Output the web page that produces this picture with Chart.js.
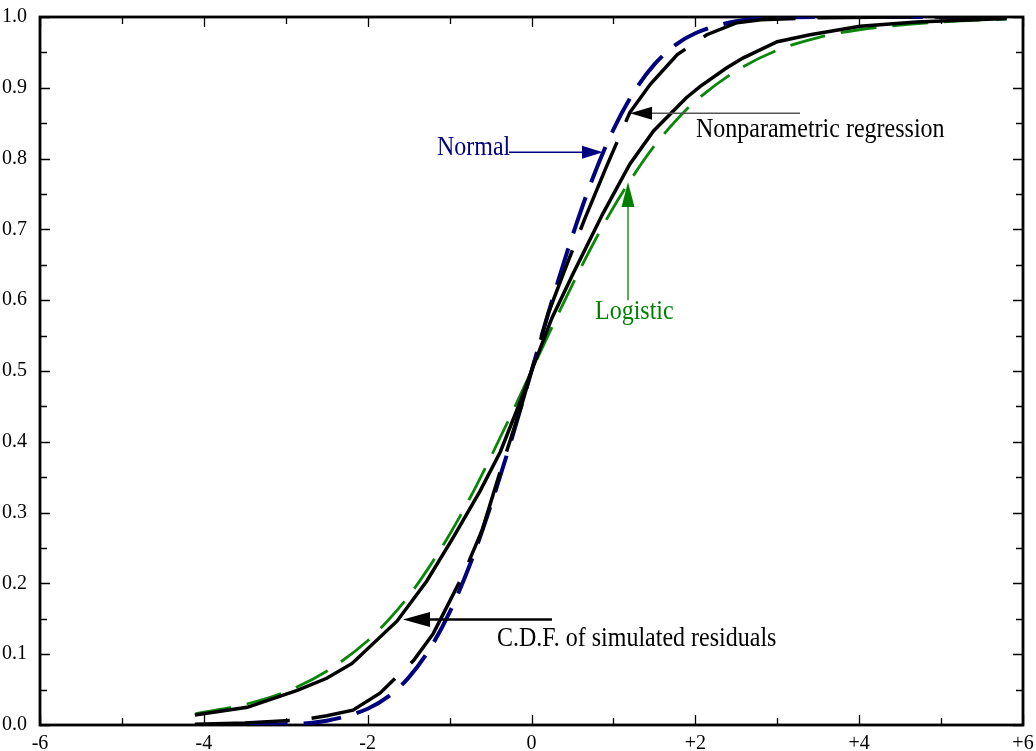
<!DOCTYPE html>
<html lang="en">
  <head>
    <meta charset="UTF-8" />
    <title>CDF comparison</title>
    <script src="https://cdn.jsdelivr.net/npm/chart.js"></script>
    <style>
      html, body { margin: 0; padding: 0; background: #fff; }
      .chart-box { position: relative; width: 1036px; height: 751px; }
    </style>
  </head>
  <body>
    <div class="chart-box"><canvas id="cdfChart"></canvas></div>
    <script>
      // tick labels
      const xTickLabels = ["-6", "-4", "-2", "0", "+2", "+4", "+6"];
      const yTickLabels = ["0.0", "0.1", "0.2", "0.3", "0.4", "0.5", "0.6", "0.7", "0.8", "0.9", "1.0"];

      // Normal c.d.f. (blue dashed)
      const normalX = [-4.1, -3.5, -3, -2.5, -2, -1.75, -1.5, -1.25, -1, -0.75, -0.5, -0.25, 0,
                       0.25, 0.5, 0.75, 1, 1.25, 1.5, 1.75, 2, 2.5, 3, 3.5, 4, 5, 5.8];
      const normalY = [0.000, 0.000, 0.001, 0.006, 0.023, 0.040, 0.067, 0.106, 0.159, 0.227, 0.309, 0.401, 0.500,
                       0.599, 0.691, 0.773, 0.841, 0.894, 0.933, 0.960, 0.977, 0.994, 0.999, 1.000, 1.000, 1.000, 1.000];

      // Logistic c.d.f. (green dashed)
      const logisticX = [-4.1, -3.5, -3, -2.5, -2, -1.75, -1.5, -1.25, -1, -0.75, -0.5, -0.25, 0,
                         0.25, 0.5, 0.75, 1, 1.25, 1.5, 1.75, 2, 2.5, 3, 3.5, 4, 5, 5.8];
      const logisticY = [0.016, 0.029, 0.047, 0.076, 0.119, 0.148, 0.182, 0.223, 0.269, 0.321, 0.378, 0.438, 0.500,
                         0.562, 0.622, 0.679, 0.731, 0.777, 0.818, 0.852, 0.881, 0.924, 0.953, 0.971, 0.982, 0.993, 0.997];

      // nonparametric regression (black long dashes, near the normal)
      const nonparX = [-4.11, -3.5, -2.83, -2.5, -2.18, -1.85, -1.44, -1.2, -0.83, -0.6, -0.35, -0.12, 0,
                       0.2, 0.39, 0.65, 0.92, 1.2, 1.45, 1.78, 2.14, 2.51, 2.8, 3.5, 4.5, 5.8];
      const nonparY = [0.001, 0.003, 0.007, 0.013, 0.021, 0.045, 0.091, 0.129, 0.213, 0.276, 0.370, 0.452, 0.500,
                       0.580, 0.638, 0.715, 0.790, 0.865, 0.905, 0.947, 0.975, 0.992, 0.996, 0.999, 1.000, 1.000];

      // c.d.f. of simulated residuals (black solid, near the logistic)
      const residX = [-4.11, -3.47, -2.86, -2.5, -2.19, -1.64, -1.28, -0.96, -0.63, -0.38, -0.14, 0,
                      0.25, 0.51, 0.87, 1.2, 1.49, 1.89, 2.06, 2.38, 2.58, 3.0, 3.4, 4.01, 4.7, 5.8];
      const residY = [0.014, 0.025, 0.049, 0.066, 0.087, 0.147, 0.203, 0.264, 0.330, 0.386, 0.456, 0.500,
                      0.575, 0.638, 0.722, 0.792, 0.839, 0.886, 0.902, 0.928, 0.942, 0.965, 0.975, 0.987, 0.993, 0.998];

      function pairs(xs, ys) {
        return xs.map((x, i) => ({ x: x, y: ys[i] }));
      }

      const serif = "'Liberation Serif', 'Times New Roman', serif";

      // frame + inward ticks on all four sides
      const framePlugin = {
        id: "frame",
        beforeDatasetsDraw(chart) {
          const { ctx, chartArea: a, scales } = chart;
          ctx.save();
          ctx.strokeStyle = "#000";
          ctx.lineWidth = 1.3;
          scales.x.ticks.forEach((t) => {
            const px = Math.round(scales.x.getPixelForValue(t.value)) + 0.5;
            const len = Math.round(t.value) % 2 === 0 ? 10 : 7;
            ctx.beginPath();
            ctx.moveTo(px, a.bottom);
            ctx.lineTo(px, a.bottom - len);
            ctx.moveTo(px, a.top);
            ctx.lineTo(px, a.top + len);
            ctx.stroke();
          });
          scales.y.ticks.forEach((t) => {
            const py = Math.round(scales.y.getPixelForValue(t.value)) + 0.5;
            const len = Math.round(t.value * 20) % 2 === 0 ? 10 : 7;
            ctx.beginPath();
            ctx.moveTo(a.left, py);
            ctx.lineTo(a.left + len, py);
            ctx.moveTo(a.right, py);
            ctx.lineTo(a.right - len, py);
            ctx.stroke();
          });
          ctx.lineWidth = 2.8;
          ctx.strokeRect(a.left, a.top, a.right - a.left, a.bottom - a.top);
          ctx.restore();
        }
      };

      function arrow(ctx, x1, y1, x2, y2, color, width, headLen, headHalf, headColor) {
        const ang = Math.atan2(y2 - y1, x2 - x1);
        const bx = x2 - headLen * Math.cos(ang);
        const by = y2 - headLen * Math.sin(ang);
        ctx.strokeStyle = color;
        ctx.fillStyle = headColor || color;
        ctx.lineWidth = width;
        ctx.beginPath();
        ctx.moveTo(x1, y1);
        ctx.lineTo(bx, by);
        ctx.stroke();
        ctx.beginPath();
        ctx.moveTo(x2, y2);
        ctx.lineTo(bx + headHalf * Math.sin(ang), by - headHalf * Math.cos(ang));
        ctx.lineTo(bx - headHalf * Math.sin(ang), by + headHalf * Math.cos(ang));
        ctx.closePath();
        ctx.fill();
      }

      // text stretched a little upward, like the original's tall serif
      function tallText(ctx, str, x, y, color) {
        ctx.save();
        ctx.fillStyle = color;
        ctx.translate(x, y);
        ctx.scale(1, 1.13);
        ctx.fillText(str, 0, 0);
        ctx.restore();
      }

      // labels with arrows, placed in data coordinates
      const notesPlugin = {
        id: "notes",
        afterDatasetsDraw(chart) {
          const { ctx, scales } = chart;
          const X = (v) => scales.x.getPixelForValue(v);
          const Y = (v) => scales.y.getPixelForValue(v);
          ctx.save();
          ctx.font = "24px " + serif;
          ctx.textBaseline = "alphabetic";
          ctx.textAlign = "left";

          tallText(ctx, "Normal", X(-1.154), Y(0.805), "#000080");
          arrow(ctx, X(-0.275), Y(0.809), X(0.873), Y(0.809), "#000080", 1.3, 21, 6.5);

          tallText(ctx, "Nonparametric regression", X(2.008), Y(0.830), "#000");
          arrow(ctx, X(3.278), Y(0.864), X(1.203), Y(0.864), "#555", 1.6, 22, 6.5, "#000");

          tallText(ctx, "Logistic", X(0.775), Y(0.574), "#008000");
          arrow(ctx, X(1.178), Y(0.600), X(1.178), Y(0.767), "#008000", 1.3, 25, 6.5);

          tallText(ctx, "C.D.F. of simulated residuals", X(-0.421), Y(0.111), "#000");
          arrow(ctx, X(0.25), Y(0.149), X(-1.569), Y(0.149), "#000", 2.5, 27, 7.5);
          ctx.restore();
        }
      };

      new Chart(document.getElementById("cdfChart"), {
        type: "line",
        data: {
          datasets: [
            {
              label: "Nonparametric regression",
              data: pairs(nonparX, nonparY),
              borderColor: "#000",
              borderWidth: 3.5,
              borderDash: [95, 22],
              tension: 0
            },
            {
              label: "C.D.F. of simulated residuals",
              data: pairs(residX, residY),
              borderColor: "#000",
              borderWidth: 3.5,
              tension: 0
            },
            {
              label: "Logistic",
              data: pairs(logisticX, logisticY),
              borderColor: "#0a870a",
              borderWidth: 2.8,
              borderDash: [36, 16],
              cubicInterpolationMode: "monotone"
            },
            {
              label: "Normal",
              data: pairs(normalX, normalY),
              borderColor: "#00007f",
              borderWidth: 4,
              borderDash: [38, 16],
              cubicInterpolationMode: "monotone"
            }
          ]
        },
        options: {
          responsive: true,
          maintainAspectRatio: false,
          animation: false,
          events: [],
          layout: { padding: { top: 12, right: 13, left: 0, bottom: 0 } },
          elements: { point: { radius: 0 } },
          plugins: {
            legend: { display: false },
            tooltip: { enabled: false }
          },
          scales: {
            x: {
              type: "linear",
              min: -6,
              max: 6,
              grid: { display: false },
              border: { display: false },
              afterFit: (s) => { s.height = 26; },
              ticks: {
                stepSize: 1,
                autoSkip: false,
                maxRotation: 0,
                padding: -1,
                color: "#000",
                font: { family: serif, size: 20 },
                callback: (v) => (Math.round(v) % 2 === 0 ? xTickLabels[(Math.round(v) + 6) / 2] : "")
              }
            },
            y: {
              min: 0,
              max: 1,
              grid: { display: false },
              border: { display: false },
              afterFit: (s) => { s.width = 40; },
              ticks: {
                stepSize: 0.05,
                autoSkip: false,
                padding: 5,
                color: "#000",
                font: { family: serif, size: 20 },
                callback: (v) => {
                  const k = Math.round(v * 20);
                  return k % 2 === 0 ? yTickLabels[k / 2] : "";
                }
              }
            }
          }
        },
        plugins: [framePlugin, notesPlugin]
      });
    </script>
  </body>
</html>
